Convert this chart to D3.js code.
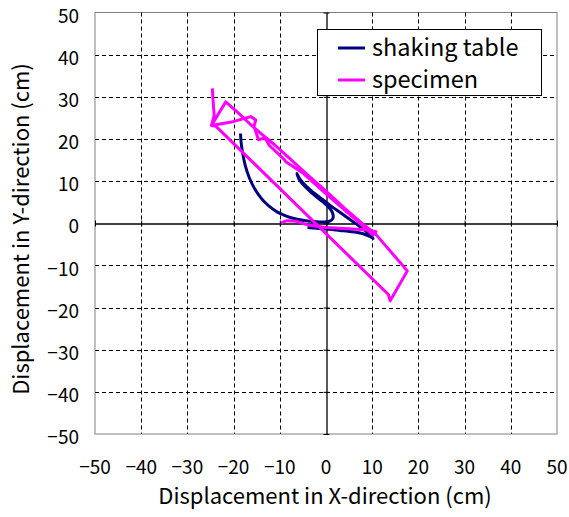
<!DOCTYPE html>
<html><head><meta charset="utf-8">
<script src="https://cdn.jsdelivr.net/npm/d3@7/dist/d3.min.js"></script>
<style>body{margin:0;background:#fff;} svg{display:block;}</style>
</head><body>
<svg id="c" width="569" height="517"></svg>
<script>
const xTicks = [-50,-40,-30,-20,-10,0,10,20,30,40,50];
const yTicks = [-50,-40,-30,-20,-10,0,10,20,30,40,50];
const seriesNames = ["shaking table","specimen"];
const seriesColors = ["#000080","#ff00ff"];

const shakingX = [-18.5,-18.4,-18.1,-17.5,-16.6,-15.4,-14.0,-12.4,-10.6,-8.6,-6.5,-4.4,-2.4,-0.6,0.8,1.5,1.4,0.6,-0.6,-2.0,-3.5,-4.8,-5.8,-6.3,-5.6,-4.2,-2.4,-0.6,1.2,3.0,4.8,6.6,8.2,9.4,10.2,9.6,8.0,5.5,3.0,0.5,-2.0,-4.0];
const shakingY = [21.3,19.5,17.0,13.8,10.8,8.1,5.9,4.1,2.7,1.7,1.0,0.6,0.4,0.3,0.5,1.2,2.5,3.8,5.0,6.2,7.6,9.0,10.4,11.8,10.4,8.7,7.0,5.5,4.0,2.6,1.2,-0.2,-1.5,-2.6,-3.6,-3.2,-2.5,-2.0,-1.7,-1.4,-1.2,-1.0];

const specimenX = [-24.6,-24.4,-24.2,-24.8,-21.7,-19.0,-16.5,-14.0,-11.0,-8.0,-4.0,0.0,4.0,8.0,10.6,17.6,13.9,13.5,-23.8,-24.8,-20.5,-16.3,-15.2,-15.6,-14.6,-13.2,-12.3,-9.0,-8.7,-5.0,-1.0,3.0,7.0,10.2,10.8,9.0,5.0,0.0,-4.0,-6.5,-8.5,-9.7];
const specimenY = [32.0,28.5,25.5,23.2,28.8,26.2,23.6,21.2,18.5,15.5,11.5,7.6,3.6,-0.2,-2.4,-11.3,-18.4,-16.9,23.0,23.2,24.0,25.3,24.5,23.0,19.8,20.3,18.5,15.1,14.6,11.9,8.0,4.1,0.3,-2.8,-2.0,-1.6,-1.3,-1.0,-0.4,0.5,0.6,0.1];

const svg = d3.select("#c");
const L=95, R=557, T=12.5, B=434;
const x = d3.scaleLinear().domain([-50,50]).range([L,R]);
const y = d3.scaleLinear().domain([-50,50]).range([B,T]);
const font = "'Noto Sans CJK JP','Noto Sans',sans-serif";

// plot border
svg.append("rect").attr("x",L).attr("y",T).attr("width",R-L).attr("height",B-T)
  .attr("fill","#fff").attr("stroke","#808080").attr("stroke-width",1);

// gridlines
const g = svg.append("g");
xTicks.filter(v=>v!==0 && v!==-50 && v!==50).forEach(v=>{
  g.append("line").attr("x1",Math.round(x(v))+0.5).attr("x2",Math.round(x(v))+0.5).attr("y1",T).attr("y2",B)
   .attr("stroke","#000").attr("stroke-width",1).attr("stroke-dasharray","4,3");
});
yTicks.filter(v=>v!==0 && v!==-50 && v!==50).forEach(v=>{
  g.append("line").attr("y1",Math.round(y(v))+0.5).attr("y2",Math.round(y(v))+0.5).attr("x1",L).attr("x2",R)
   .attr("stroke","#000").attr("stroke-width",1).attr("stroke-dasharray","4,3");
});

// zero axes with d3 axes (ticks)
const xAxis = d3.axisBottom(x).tickValues(xTicks).tickSize(3).tickSizeOuter(0).tickFormat("");
const yAxis = d3.axisLeft(y).tickValues(yTicks).tickSize(3).tickSizeOuter(0).tickFormat("");
const xa = svg.append("g").attr("transform",`translate(0,${Math.round(y(0))+0.5})`).call(xAxis);
const ya = svg.append("g").attr("transform",`translate(${Math.round(x(0))+0.5},0)`).call(yAxis);
[xa,ya].forEach(a=>{ a.selectAll("path,line").attr("stroke","#000"); a.select(".domain").attr("stroke-width",1.3); });
xa.selectAll(".tick line").attr("y1",-3).attr("y2",3);
ya.selectAll(".tick line").attr("x1",-3).attr("x2",3);

// tick labels
const fmt = v => (v<0 ? "\u2212"+Math.abs(v) : String(v));
svg.append("g").selectAll("text").data(yTicks).join("text")
  .attr("x",79).attr("y",d=>y(d)+3.5).attr("dy","0.35em").attr("text-anchor","end")
  .attr("font-family",font).attr("font-size",19).text(fmt);
svg.append("g").selectAll("text").data(xTicks).join("text")
  .attr("x",d=>x(d)).attr("y",467).attr("dy","0.35em").attr("text-anchor","middle")
  .attr("font-family",font).attr("font-size",19).text(fmt);

// axis titles
svg.append("text").attr("x",325).attr("y",496).attr("dy","0.35em").attr("text-anchor","middle")
  .attr("font-family",font).attr("font-size",22).text("Displacement in X-direction (cm)");
svg.append("text").attr("transform",`translate(21,229) rotate(-90)`).attr("dy","0.35em").attr("text-anchor","middle")
  .attr("font-family",font).attr("font-size",22).text("Displacement in Y-direction (cm)");

// series
const line = d3.line().x(d=>x(d[0])).y(d=>y(d[1]));
const smooth = d3.line().x(d=>x(d[0])).y(d=>y(d[1])).curve(d3.curveCatmullRom.alpha(0.5));
const shaking = shakingX.map((v,i)=>[v,shakingY[i]]);
const specimen = specimenX.map((v,i)=>[v,specimenY[i]]);
svg.append("clipPath").attr("id","pc").append("rect").attr("x",L).attr("y",T).attr("width",R-L).attr("height",B-T);
const plot = svg.append("g").attr("clip-path","url(#pc)");
plot.append("path").datum(shaking).attr("d",smooth).attr("fill","none").attr("stroke",seriesColors[0]).attr("stroke-width",3).attr("stroke-linejoin","round");
plot.append("path").datum(specimen).attr("d",line).attr("fill","none").attr("stroke",seriesColors[1]).attr("stroke-width",3).attr("stroke-linejoin","round");

// legend
const lg = svg.append("g");
lg.append("rect").attr("x",317.5).attr("y",29.5).attr("width",224).attr("height",66).attr("fill","#fff").attr("stroke","#000").attr("stroke-width",1);
seriesNames.forEach((n,i)=>{
  const yy = 48 + i*32;
  lg.append("line").attr("x1",338).attr("x2",365).attr("y1",yy).attr("y2",yy).attr("stroke",seriesColors[i]).attr("stroke-width",3);
  lg.append("text").attr("x",372).attr("y",yy).attr("dy","0.35em").attr("font-family",font).attr("font-size",23.5).text(n);
});
</script>
</body></html>
